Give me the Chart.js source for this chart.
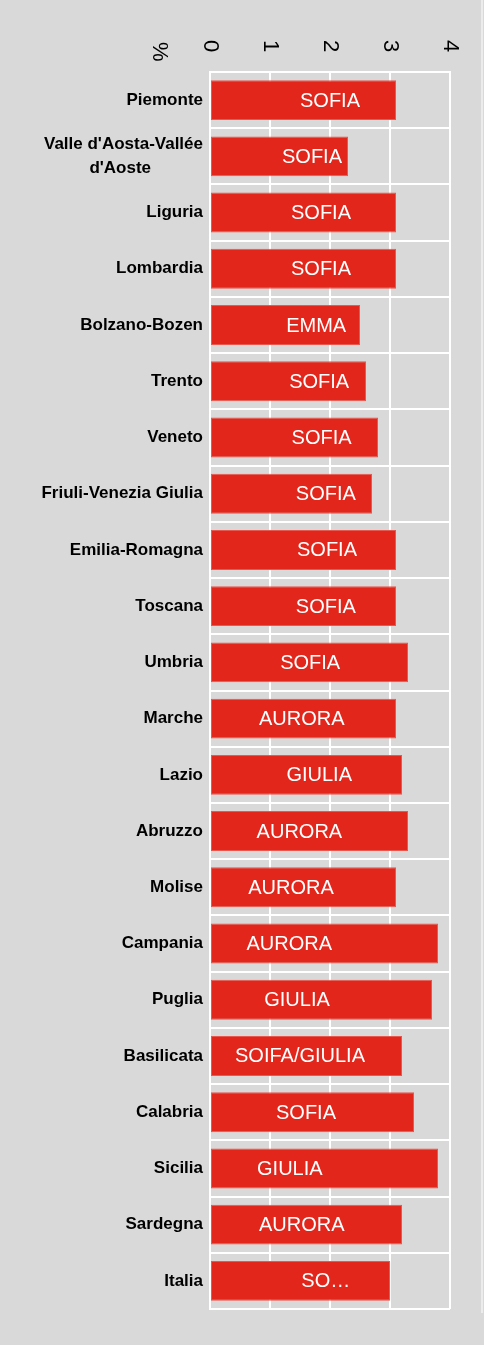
<!DOCTYPE html>
<html>
<head>
<meta charset="utf-8">
<script src="https://cdn.jsdelivr.net/npm/chart.js@4.4.1/dist/chart.umd.min.js"></script>
<style>
  html, body { margin: 0; padding: 0; background: #d9d9d9; }
  #wrap { position: relative; width: 484px; height: 1345px; }
  #edge { position: absolute; left: 481px; top: 0; width: 2px; height: 1313px; background: #ececec; }
</style>
</head>
<body>
<div id="wrap">
  <canvas id="myChart" width="484" height="1345"></canvas>
  <div id="edge"></div>
</div>
<script>
const FONT = "'Liberation Sans', Arial, Helvetica, sans-serif";

const regions = [
    'Piemonte', ["Valle d'Aosta-Vallée", "d'Aoste\u00a0\u00a0\u00a0\u00a0\u00a0\u00a0\u00a0\u00a0\u00a0\u00a0\u00a0"], 'Liguria', 'Lombardia',
    'Bolzano-Bozen', 'Trento', 'Veneto', 'Friuli-Venezia Giulia', 'Emilia-Romagna',
    'Toscana', 'Umbria', 'Marche', 'Lazio', 'Abruzzo', 'Molise', 'Campania',
    'Puglia', 'Basilicata', 'Calabria', 'Sicilia', 'Sardegna', 'Italia'
];
const values = [3.1, 2.3, 3.1, 3.1, 2.5, 2.6, 2.8, 2.7, 3.1, 3.1, 3.3,
                3.1, 3.2, 3.3, 3.1, 3.8, 3.7, 3.2, 3.4, 3.8, 3.2, 3.0];
const names = ['SOFIA', 'SOFIA', 'SOFIA', 'SOFIA', 'EMMA', 'SOFIA', 'SOFIA', 'SOFIA',
               'SOFIA', 'SOFIA', 'SOFIA', 'AURORA', 'GIULIA', 'AURORA', 'AURORA', 'AURORA',
               'GIULIA', 'SOIFA/GIULIA', 'SOFIA', 'GIULIA', 'AURORA', 'SO…'];
const xTicks = [0, 1, 2, 3, 4];
const unit = '%';

// where each name sits along the bar (axis units), as in the original
const nameAt = [2.0, 1.7, 1.85, 1.85, 1.77, 1.82, 1.86, 1.93, 1.95, 1.93, 1.67,
                1.53, 1.82, 1.49, 1.35, 1.32, 1.45, 1.5, 1.6, 1.33, 1.53, 1.93];

const barNames = {
    id: 'barNames',
    afterDatasetsDraw(chart, args, opts) {
        const ctx = chart.ctx;
        const x = chart.scales.x;
        ctx.save();
        ctx.font = '20px ' + FONT;
        ctx.fillStyle = '#ffffff';
        ctx.textAlign = 'center';
        ctx.textBaseline = 'middle';
        chart.getDatasetMeta(0).data.forEach((bar, i) => {
            ctx.fillText(names[i], x.getPixelForValue(opts.at[i]), bar.y + 1);
        });
        ctx.restore();
    }
};

const unitLabel = {
    id: 'unitLabel',
    afterDraw(chart) {
        const ctx = chart.ctx;
        const a = chart.chartArea;
        ctx.save();
        ctx.translate(a.left - 51, a.top - 30);
        ctx.rotate(Math.PI / 2);
        ctx.font = '22px ' + FONT;
        ctx.fillStyle = '#000';
        ctx.textAlign = 'left';
        ctx.textBaseline = 'middle';
        ctx.fillText(unit, 0, 0);
        ctx.restore();
    }
};

const ctx = document.getElementById('myChart');
const PLOT = new Chart(ctx, {
    type: 'bar',
    data: {
        labels: regions,
        datasets: [{
            label: unit,
            data: values,
            backgroundColor: '#e3261b',
            borderColor: '#e8584e',
            borderWidth: 1,
            borderSkipped: false,
            barPercentage: 0.71,
            categoryPercentage: 1
        }]
    },
    options: {
        indexAxis: 'y',
        responsive: false,
        animation: false,
        devicePixelRatio: 1,
        layout: { padding: { top: 0, right: 34, bottom: 36, left: 0 } },
        scales: {
            x: {
                position: 'top',
                min: 0,
                max: 4,
                afterBuildTicks(scale) {
                    scale.ticks = xTicks.map(v => ({ value: v }));
                },
                afterFit(scale) { scale.height = 72; },
                grid: { color: '#ffffff', lineWidth: 2, drawTicks: false },
                border: { color: '#ffffff', width: 2 },
                ticks: {
                    minRotation: -90,
                    maxRotation: -90,
                    padding: 32,
                    labelOffset: -26,
                    color: '#000',
                    font: { family: FONT, size: 22 }
                }
            },
            y: {
                afterFit(scale) { scale.width = 210; },
                grid: { color: '#ffffff', lineWidth: 2, drawTicks: false, offset: true },
                border: { color: '#ffffff', width: 2 },
                ticks: {
                    padding: 7,
                    color: '#000',
                    autoSkip: false,
                    font: { family: FONT, size: 17, weight: 'bold', lineHeight: 1.41 }
                }
            }
        },
        plugins: {
            legend: { display: false },
            tooltip: { enabled: false },
            barNames: { at: nameAt }
        }
    },
    plugins: [barNames, unitLabel]
});
</script>
</body>
</html>
